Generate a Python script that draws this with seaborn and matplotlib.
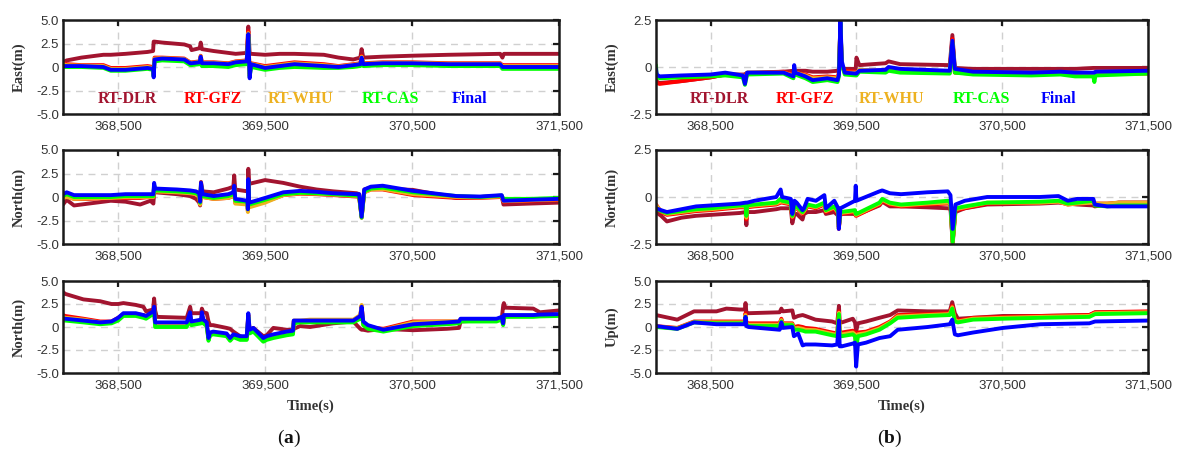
import numpy as np
import pandas as pd
import matplotlib
matplotlib.use("Agg")
import matplotlib.pyplot as plt
import seaborn as sns

# ---------------- data ----------------
sources = ["RT-DLR", "RT-GFZ", "RT-WHU", "RT-CAS", "Final"]
colors = ["#A2142F", "#FF0000", "#EDB120", "#00FF00", "#0000FF"]
xtick_vals = [368500, 369500, 370500, 371500]
xtick_labels = ["368,500", "369,500", "370,500", "371,500"]

# (a) East
a_east_t = [368125, 368150, 368250, 368400, 368450, 368550, 368700, 368738, 368742, 368748,
            368800, 368950, 368990, 369000, 369055, 369062, 369070, 369150, 369250, 369300,
            369375, 369386, 369395, 369405, 369500, 369600, 369700, 369900, 370000, 370100,
            370148, 370157, 370168, 370300, 370500, 370750, 371100, 371115, 371125, 371300, 371500]
a_east_dlr = [0.5, 0.7, 1.0, 1.3, 1.3, 1.4, 1.6, 1.7, 2.7, 2.7,
              2.6, 2.4, 2.2, 1.8, 2.0, 2.6, 1.9, 1.7, 1.5, 1.4,
              1.5, 4.3, 1.4, 1.4, 1.3, 1.4, 1.4, 1.3, 1.0, 0.8,
              1.0, 1.9, 1.0, 1.1, 1.2, 1.3, 1.4, 1.0, 1.4, 1.4, 1.4]
a_east_gfz = [0.4, 0.3, 0.2, 0.2, -0.1, -0.1, 0.1, 0.0, -0.8, 1.0,
              1.0, 0.9, 0.5, 0.5, 0.6, 1.2, 0.5, 0.5, 0.4, 0.6,
              0.7, 3.8, -0.8, 0.4, 0.1, 0.3, 0.5, 0.3, 0.1, 0.3,
              0.4, 1.2, 0.4, 0.5, 0.5, 0.4, 0.4, 0.2, 0.2, 0.2, 0.2]
a_east_whu = [0.3, 0.2, 0.15, 0.1, -0.2, -0.2, 0.0, -0.1, -0.9, 0.9,
              0.95, 0.85, 0.45, 0.45, 0.55, 1.15, 0.45, 0.45, 0.35, 0.55,
              0.65, 3.6, -1.0, 0.35, 0.0, 0.2, 0.4, 0.2, 0.05, 0.25,
              0.35, 1.1, 0.35, 0.45, 0.45, 0.35, 0.35, 0.1, 0.1, 0.1, 0.1]
a_east_cas = [0.0, 0.0, 0.0, -0.1, -0.4, -0.4, -0.2, -0.3, -1.0, 0.6,
              0.7, 0.6, 0.2, 0.2, 0.3, 0.9, 0.1, 0.1, 0.0, 0.2,
              0.3, 3.2, -1.0, 0.0, -0.3, -0.1, 0.0, -0.1, -0.1, 0.0,
              0.1, 0.8, 0.1, 0.2, 0.2, 0.1, 0.1, -0.2, -0.2, -0.2, -0.2]
a_east_fin = [0.1, 0.1, 0.1, 0.0, -0.3, -0.3, -0.1, -0.2, -1.1, 0.8,
              0.9, 0.8, 0.4, 0.4, 0.5, 1.1, 0.4, 0.4, 0.3, 0.5,
              0.6, 3.5, -1.2, 0.3, -0.1, 0.1, 0.3, 0.1, 0.0, 0.2,
              0.3, 1.0, 0.3, 0.4, 0.4, 0.3, 0.3, 0.0, 0.0, 0.0, 0.0]

# (a) North (middle)
a_north_t = [368125, 368150, 368200, 368300, 368450, 368550, 368650, 368720, 368740, 368745,
             368752, 368900, 368990, 369030, 369052, 369058, 369064, 369075, 369150, 369250,
             369284, 369290, 369297, 369380, 369383, 369386, 369392, 369500, 369624, 369738,
             369850, 369964, 370123, 370140, 370157, 370175, 370220, 370300, 370508, 370803,
             370962, 371110, 371122, 371300, 371500]
a_north_dlr = [-0.8, -0.3, -0.9, -0.7, -0.4, -0.5, -0.8, -0.4, -0.7, 0.4,
               0.5, 0.3, 0.1, -0.2, -0.6, -0.9, 1.6, 0.6, 0.5, 0.9,
               1.1, 2.3, 0.8, 0.6, 0.7, 3.0, 1.4, 1.8, 1.5, 1.1,
               0.8, 0.6, 0.4, 0.3, -2.0, 0.8, 1.0, 0.9, 0.75, -0.1,
               0.0, 0.1, -0.8, -0.7, -0.6]
a_north_gfz = [-0.1, 0.1, -0.2, -0.2, -0.1, -0.1, -0.1, 0.0, 0.0, 1.1,
               0.6, 0.5, 0.4, 0.3, 0.0, -0.8, 1.2, 0.0, -0.2, -0.1,
               0.1, 0.8, -0.6, -0.7, -1.5, 1.4, -1.0, -0.5, 0.2, 0.35,
               0.3, 0.2, 0.05, 0.0, -2.2, 0.5, 0.8, 0.8, 0.2, -0.1,
               -0.1, 0.0, -0.5, -0.4, -0.3]
a_north_whu = [-0.1, 0.0, -0.2, -0.15, -0.1, 0.0, 0.0, 0.0, 0.0, 1.1,
               0.6, 0.5, 0.4, 0.3, 0.0, -0.8, 1.2, 0.0, -0.2, -0.1,
               0.1, 0.8, -0.7, -0.8, -1.6, 1.4, -1.1, -0.6, 0.2, 0.4,
               0.35, 0.25, 0.1, 0.05, -2.2, 0.5, 0.8, 0.85, 0.3, 0.0,
               -0.05, 0.05, -0.45, -0.35, -0.25]
a_north_cas = [0.1, 0.3, 0.0, 0.0, 0.0, 0.1, 0.1, 0.1, 0.1, 1.3,
               0.7, 0.6, 0.5, 0.4, 0.2, -0.6, 1.3, 0.1, -0.1, 0.1,
               0.3, 1.0, -0.4, -0.5, -1.3, 1.6, -0.8, -0.3, 0.3, 0.45,
               0.4, 0.3, 0.15, 0.1, -2.2, 0.6, 0.9, 1.0, 0.5, 0.1,
               0.0, 0.15, -0.2, -0.2, -0.1]
a_north_fin = [0.3, 0.5, 0.2, 0.2, 0.2, 0.3, 0.3, 0.3, 0.3, 1.5,
               0.9, 0.8, 0.7, 0.6, 0.4, -0.5, 1.5, 0.3, 0.1, 0.3,
               0.5, 1.2, -0.2, -0.4, -1.3, 1.9, -0.6, -0.1, 0.5, 0.65,
               0.55, 0.4, 0.3, 0.3, -2.1, 0.8, 1.1, 1.2, 0.65, 0.1,
               0.05, 0.2, -0.4, -0.3, -0.2]

# (a) bottom panel (labelled North in the original)
a_low_t = [368125, 368140, 368264, 368378, 368455, 368500, 368536, 368620, 368672, 368690,
           368738, 368745, 368752, 368763, 368967, 368990, 368998, 369065, 369070, 369080,
           369103, 369115, 369126, 369147, 369238, 369262, 369284, 369330, 369375, 369386,
           369395, 369420, 369488, 369511, 369556, 369647, 369690, 369695, 369738, 369806,
           369964, 370100, 370148, 370157, 370168, 370200, 370305, 370508, 370734, 370820,
           370830, 371075, 371110, 371120, 371125, 371135, 371325, 371370, 371500]
a_low_dlr = [3.8, 3.6, 3.0, 2.8, 2.5, 2.5, 2.6, 2.4, 2.2, 1.7,
             1.9, 3.1, 1.8, 1.1, 1.0, 2.2, 1.5, 1.5, 2.0, 1.6,
             1.5, 0.6, 0.2, 0.2, -0.1, -0.2, -0.5, -1.0, -1.3, 0.5,
             -0.3, -0.1, -1.0, -0.9, -0.1, -0.3, -0.3, -0.2, 0.1, 0.0,
             0.4, 0.6, -0.2, -0.3, -0.3, -0.4, -0.2, -0.35, -0.2, -0.1,
             0.6, 0.8, 0.8, 2.3, 2.6, 2.1, 2.0, 1.6, 1.8]
a_low_gfz = [1.3, 1.2, 0.9, 0.6, 0.6, 1.0, 1.4, 1.4, 1.3, 1.2,
             1.6, 2.0, 0.3, 0.3, 0.3, 1.4, 0.4, 0.6, 1.4, 0.6,
             0.3, -1.3, -0.8, -0.7, -0.9, -1.3, -1.0, -1.2, -1.2, 1.3,
             -0.5, -0.3, -1.4, -1.2, -1.0, -0.7, -0.6, 0.6, 0.6, 0.7,
             0.7, 0.7, 1.2, 2.3, 0.4, 0.0, -0.2, 0.6, 0.6, 0.6,
             0.8, 0.8, 0.9, 0.3, 1.2, 1.2, 1.2, 1.25, 1.3]
a_low_whu = [1.1, 1.0, 0.8, 0.5, 0.5, 0.9, 1.3, 1.3, 1.2, 1.1,
             1.5, 2.0, 0.2, 0.2, 0.2, 1.3, 0.3, 0.5, 1.3, 0.5,
             0.2, -1.4, -0.8, -0.7, -0.9, -1.4, -1.0, -1.2, -1.2, 1.3,
             -0.5, -0.3, -1.5, -1.3, -1.0, -0.7, -0.6, 0.7, 0.7, 0.8,
             0.8, 0.8, 1.3, 2.4, 0.3, 0.0, -0.3, 0.5, 0.6, 0.6,
             0.8, 0.8, 1.0, 0.3, 1.2, 1.2, 1.2, 1.25, 1.3]
a_low_cas = [0.7, 0.7, 0.5, 0.3, 0.4, 0.7, 1.2, 1.2, 1.0, 0.9,
             1.4, 1.9, 0.0, 0.0, 0.0, 1.2, 0.2, 0.4, 1.2, 0.4,
             0.1, -1.5, -0.9, -0.8, -1.0, -1.5, -1.1, -1.4, -1.4, 1.1,
             -0.7, -0.5, -1.6, -1.4, -1.2, -0.9, -0.8, 0.4, 0.5, 0.5,
             0.5, 0.5, 0.9, 1.8, 0.2, -0.2, -0.5, 0.1, 0.3, 0.4,
             0.6, 0.6, 0.8, 0.2, 1.1, 1.1, 1.1, 1.15, 1.2]
a_low_fin = [0.9, 0.9, 0.7, 0.5, 0.6, 1.0, 1.5, 1.5, 1.3, 1.2,
             1.7, 2.2, 0.5, 0.5, 0.5, 1.6, 0.6, 0.8, 1.6, 0.8,
             0.5, -1.2, -0.6, -0.5, -0.7, -1.2, -0.8, -1.0, -1.0, 1.5,
             -0.3, -0.1, -1.2, -1.0, -0.8, -0.5, -0.4, 0.7, 0.7, 0.7,
             0.7, 0.7, 1.2, 2.2, 0.6, 0.2, -0.3, 0.3, 0.5, 0.6,
             0.9, 0.9, 1.1, 0.4, 1.3, 1.3, 1.3, 1.35, 1.4]

# (b) East
b_east_t = [368125, 368130, 368150, 368300, 368500, 368600, 368721, 368735, 368750, 369000,
            369068, 369073, 369080, 369150, 369200, 369300, 369370, 369380, 369390, 369400,
            369420, 369495, 369500, 369520, 369700, 369720, 369800, 370140, 370158, 370175,
            370300, 370700, 370900, 371000, 371125, 371132, 371140, 371500]
b_east_dlr = [-0.7, -0.8, -0.85, -0.75, -0.55, -0.4, -0.4, -0.4, -0.3, -0.25,
              -0.2, -0.2, -0.2, -0.2, -0.25, -0.25, -0.2, -0.1, 2.3, 0.0,
              -0.1, -0.1, 0.5, 0.1, 0.2, 0.3, 0.15, 0.1, 1.7, -0.05,
              -0.1, -0.1, -0.1, -0.1, -0.05, -0.05, -0.05, -0.05]
b_east_gfz = [-0.6, -0.85, -0.9, -0.75, -0.55, -0.4, -0.45, -0.6, -0.35, -0.25,
              -0.4, -0.2, -0.3, -0.4, -0.55, -0.5, -0.55, -0.3, 2.2, 0.0,
              -0.2, -0.25, -0.3, -0.2, -0.2, -0.1, -0.25, -0.3, 1.5, -0.3,
              -0.35, -0.35, -0.35, -0.35, -0.35, -0.35, -0.35, -0.35]
b_east_whu = [-0.3, -0.5, -0.55, -0.5, -0.45, -0.35, -0.45, -0.7, -0.3, -0.3,
              -0.45, -0.1, -0.3, -0.45, -0.6, -0.55, -0.6, -0.35, 2.3, 0.1,
              -0.3, -0.3, -0.35, -0.15, -0.2, -0.1, -0.2, -0.3, 1.4, -0.25,
              -0.35, -0.4, -0.35, -0.4, -0.45, -0.45, -0.4, -0.35]
b_east_cas = [0.1, -0.55, -0.6, -0.55, -0.5, -0.45, -0.55, -0.95, -0.4, -0.35,
              -0.6, -0.1, -0.4, -0.6, -0.8, -0.7, -0.8, -0.5, 2.4, 0.1,
              -0.4, -0.45, -0.45, -0.25, -0.3, -0.2, -0.3, -0.35, 1.3, -0.3,
              -0.4, -0.45, -0.4, -0.5, -0.5, -0.8, -0.45, -0.35]
b_east_fin = [-0.1, -0.4, -0.5, -0.45, -0.4, -0.3, -0.45, -0.9, -0.3, -0.3,
              -0.5, 0.1, -0.3, -0.5, -0.7, -0.6, -0.7, -0.4, 2.5, 0.3,
              -0.3, -0.35, -0.35, -0.2, -0.15, 0.0, -0.1, -0.2, 1.4, -0.1,
              -0.25, -0.3, -0.25, -0.3, -0.3, -0.3, -0.25, -0.2]

# (b) North
b_north_t = [368125, 368160, 368200, 368300, 368400, 368500, 368700, 368740, 368745, 368750,
             368800, 368950, 368980, 368990, 369050, 369060, 369075, 369090, 369130, 369140,
             369165, 369222, 369280, 369290, 369348, 369375, 369379, 369390, 369490, 369495,
             369500, 369658, 369677, 369729, 369806, 369986, 370127, 370145, 370160, 370179,
             370243, 370397, 370757, 370886, 370950, 371014, 371125, 371135, 371220, 371300,
             371500]
b_north_dlr = [-0.8, -1.0, -1.3, -1.1, -1.0, -0.95, -0.85, -0.8, -1.5, -0.8,
               -0.8, -0.65, -0.6, -0.6, -0.6, -1.4, -0.9, -0.9, -1.2, -0.9,
               -0.8, -0.8, -0.7, -0.9, -0.8, -1.0, -1.6, -0.9, -0.9, -0.95,
               -0.95, -0.45, -0.25, -0.5, -0.5, -0.55, -0.6, -0.6, -2.5, -0.8,
               -0.6, -0.4, -0.35, -0.3, -0.35, -0.4, -0.45, -0.5, -0.4, -0.3,
               -0.3]
b_north_gfz = [-0.4, -0.8, -0.95, -0.85, -0.75, -0.7, -0.55, -0.55, -1.2, -0.55,
               -0.5, -0.4, -0.3, -0.3, -0.4, -1.1, -0.6, -0.6, -0.9, -0.8,
               -0.5, -0.6, -0.4, -0.8, -0.6, -0.9, -1.7, -0.9, -0.8, -1.0,
               -1.0, -0.4, -0.2, -0.4, -0.5, -0.4, -0.35, -0.4, -2.4, -0.7,
               -0.6, -0.35, -0.3, -0.25, -0.4, -0.35, -0.3, -0.35, -0.35, -0.3,
               -0.3]
b_north_whu = [-0.45, -0.75, -0.9, -0.8, -0.7, -0.65, -0.5, -0.5, -1.1, -0.5,
               -0.45, -0.35, -0.25, -0.25, -0.35, -1.05, -0.55, -0.55, -0.85, -0.75,
               -0.45, -0.55, -0.35, -0.75, -0.55, -0.85, -1.65, -0.85, -0.75, -0.95,
               -0.95, -0.35, -0.15, -0.35, -0.45, -0.35, -0.3, -0.35, -2.4, -0.65,
               -0.55, -0.3, -0.3, -0.25, -0.4, -0.35, -0.3, -0.35, -0.35, -0.3,
               -0.3]
b_north_cas = [-0.6, -0.75, -0.85, -0.75, -0.65, -0.6, -0.45, -0.45, -1.0, -0.45,
               -0.4, -0.3, -0.1, -0.2, -0.3, -1.0, -0.5, -0.5, -0.8, -0.7,
               -0.4, -0.5, -0.3, -0.7, -0.5, -0.8, -1.6, -0.8, -0.7, -0.9,
               -0.9, -0.3, -0.1, -0.3, -0.4, -0.3, -0.2, -0.3, -2.4, -0.6,
               -0.5, -0.3, -0.25, -0.2, -0.35, -0.3, -0.2, -0.45, -0.5, -0.45,
               -0.45]
b_north_fin = [-0.6, -0.7, -0.8, -0.65, -0.5, -0.45, -0.35, -0.3, -0.3, -0.3,
               -0.2, 0.0, 0.4, 0.0, -0.1, -0.9, -0.2, -0.3, -0.7, -0.6,
               -0.1, -0.2, 0.1, -0.6, -0.2, -0.6, -1.7, -0.6, -0.2, 0.6,
               -0.2, 0.3, 0.35, 0.2, 0.15, 0.25, 0.3, 0.1, -1.7, -0.4,
               -0.2, 0.0, 0.0, 0.05, -0.2, -0.1, -0.1, -0.4, -0.5, -0.5,
               -0.5]

# (b) Up
b_up_t = [368125, 368271, 368386, 368540, 368608, 368700, 368735, 368739, 368745, 368760,
          368973, 368985, 368995, 369060, 369071, 369100, 369131, 369150, 369219, 369333,
          369368, 369380, 369385, 369400, 369475, 369490, 369498, 369510, 369566, 369658,
          369731, 369783, 369989, 370140, 370157, 370175, 370196, 370300, 370505, 370763,
          371098, 371137, 371500]
b_up_dlr = [1.3, 0.8, 1.7, 1.7, 2.0, 1.9, 1.9, 2.6, 1.6, 1.5,
            1.6, 2.0, 1.7, 1.8, 1.0, 1.2, 1.3, 1.2, 0.8, 0.6,
            0.4, 2.3, 0.5, 0.5, 0.9, 0.5, -0.5, 0.4, 0.6, 1.0,
            1.3, 1.8, 1.7, 1.7, 2.7, 1.5, 0.9, 1.0, 1.2, 1.2,
            1.3, 1.6, 1.6]
b_up_gfz = [0.1, -0.1, 0.6, 0.6, 0.6, 0.6, 0.6, 1.5, 0.5, 0.4,
            0.4, 0.9, 0.4, 0.4, 0.0, 0.1, 0.0, -0.1, -0.2, -0.6,
            -0.7, 1.7, -0.6, -0.6, -0.4, -0.6, -1.5, -0.6, -0.5, 0.0,
            0.6, 1.3, 1.4, 1.5, 2.3, 0.9, 0.7, 1.0, 1.1, 1.2,
            1.3, 1.6, 1.7]
b_up_whu = [0.05, -0.15, 0.55, 0.5, 0.5, 0.5, 0.5, 1.3, 0.35, 0.25,
            0.25, 0.75, 0.3, 0.3, -0.15, -0.1, -0.2, -0.3, -0.35, -0.75,
            -0.85, 1.55, -0.8, -0.8, -0.6, -0.8, -2.0, -0.8, -0.65, -0.15,
            0.5, 1.15, 1.3, 1.4, 2.15, 0.75, 0.6, 0.9, 1.0, 1.1,
            1.2, 1.5, 1.6]
b_up_cas = [0.0, -0.2, 0.5, 0.4, 0.4, 0.4, 0.4, 1.1, 0.2, 0.1,
            0.1, 0.6, 0.2, 0.2, -0.3, -0.3, -0.4, -0.5, -0.5, -0.9,
            -1.0, 1.4, -1.0, -1.0, -0.8, -1.0, -2.5, -1.0, -0.8, -0.3,
            0.4, 1.0, 1.2, 1.3, 2.0, 0.6, 0.5, 0.8, 0.9, 1.0,
            1.1, 1.4, 1.5]
b_up_fin = [0.1, -0.2, 0.5, 0.3, 0.3, 0.3, 0.3, 1.1, 0.1, 0.0,
            -0.3, 0.5, -0.1, 0.0, -1.0, -0.7, -2.0, -1.9, -1.9, -2.0,
            -1.9, 0.7, -2.1, -2.1, -1.8, -1.7, -4.3, -1.9, -1.7, -1.2,
            -1.0, -0.3, 0.0, 0.3, 0.8, -0.8, -0.9, -0.6, -0.1, 0.3,
            0.4, 0.6, 0.7]

# ---------------- style ----------------
sns.set_theme(style="white")
plt.rcParams["font.family"] = ["Liberation Sans", "DejaVu Sans"]
plt.rcParams["mathtext.fontset"] = "custom"
plt.rcParams["mathtext.rm"] = "Liberation Serif"
plt.rcParams["mathtext.bf"] = "Liberation Serif:bold"

W, H = 1177, 450
fig = plt.figure(figsize=(W / 100, H / 100), dpi=100)

cols = {"a": (63, 496), "b": (656, 492)}
rows = [(20, 94), (150, 94), (281, 92)]

y5_ticks = [5.0, 2.5, 0.0, -2.5, -5.0]
y5_labels = ["5.0", "2.5", "0", "-2.5", "-5.0"]
y25_ticks = [2.5, 0.0, -2.5]
y25_labels = ["2.5", "0", "-2.5"]

panels = [
    ("a", 0, "East(m)", (-5, 5), y5_ticks, y5_labels, a_east_t,
     [a_east_dlr, a_east_gfz, a_east_whu, a_east_cas, a_east_fin]),
    ("a", 1, "North(m)", (-5, 5), y5_ticks, y5_labels, a_north_t,
     [a_north_dlr, a_north_gfz, a_north_whu, a_north_cas, a_north_fin]),
    ("a", 2, "North(m)", (-5, 5), y5_ticks, y5_labels, a_low_t,
     [a_low_dlr, a_low_gfz, a_low_whu, a_low_cas, a_low_fin]),
    ("b", 0, "East(m)", (-2.5, 2.5), y25_ticks, y25_labels, b_east_t,
     [b_east_dlr, b_east_gfz, b_east_whu, b_east_cas, b_east_fin]),
    ("b", 1, "North(m)", (-2.5, 2.5), y25_ticks, y25_labels, b_north_t,
     [b_north_dlr, b_north_gfz, b_north_whu, b_north_cas, b_north_fin]),
    ("b", 2, "Up(m)", (-5, 5), y5_ticks, y5_labels, b_up_t,
     [b_up_dlr, b_up_gfz, b_up_whu, b_up_cas, b_up_fin]),
]

palette = dict(zip(sources, colors))
label_x = [0.129, 0.302, 0.479, 0.661, 0.819]

for col, r, ylab, ylim, yt, ytl, t, series in panels:
    x0, w = cols[col]
    y0, h = rows[r]
    ax = fig.add_axes([x0 / W, 1 - (y0 + h) / H, w / W, h / H])
    df = pd.DataFrame({
        "time": np.concatenate([t] * len(series)),
        "value": np.concatenate(series),
        "source": np.repeat(sources, len(t)),
    })
    sns.lineplot(data=df, x="time", y="value", hue="source", hue_order=sources,
                 palette=palette, estimator=None, sort=False, legend=False,
                 linewidth=2.8, ax=ax)
    ax.set_xlim(368125, 371500)
    ax.set_ylim(*ylim)
    ax.set_xticks(xtick_vals)
    ax.set_xticklabels(xtick_labels)
    ax.set_yticks(yt)
    ax.set_yticklabels(ytl)
    ax.set_axisbelow(True)
    ax.grid(True, linestyle=(0, (5, 4)), color="#D0D0D0", linewidth=1.0)
    for s in ax.spines.values():
        s.set_linewidth(1.8)
        s.set_color("#1a1a1a")
    ax.tick_params(axis="both", direction="in", top=True, right=True, length=4,
                   width=1.6, color="#1a1a1a", labelsize=9.5, labelcolor="#333333")
    ax.tick_params(axis="x", pad=5)
    ax.tick_params(axis="y", pad=3)
    ax.set_ylabel(ylab, fontfamily="Liberation Serif", fontweight="bold", fontsize=10.5,
                  color="#333333")
    ax.yaxis.set_label_coords(-37 / w, 0.5)
    if r == 2:
        ax.set_xlabel("Time(s)", fontfamily="Liberation Serif", fontweight="bold",
                      fontsize=10.5, color="#333333")
        ax.xaxis.set_label_coords(0.5, -0.29)
    else:
        ax.set_xlabel("")
    if r == 0:
        for lx, name, c in zip(label_x, sources, colors):
            ax.text(lx, 0.16, name, transform=ax.transAxes, ha="center", va="center",
                    color=c, fontsize=11.5, fontweight="bold", fontfamily="Liberation Serif")

fig.text(289 / W, 1 - 438 / H, r"($\mathbf{a}$)", ha="center", va="center",
         fontsize=14, fontfamily="Liberation Serif", color="#111111")
fig.text(890 / W, 1 - 438 / H, r"($\mathbf{b}$)", ha="center", va="center",
         fontsize=14, fontfamily="Liberation Serif", color="#111111")

fig.savefig("out.png", dpi=100)
